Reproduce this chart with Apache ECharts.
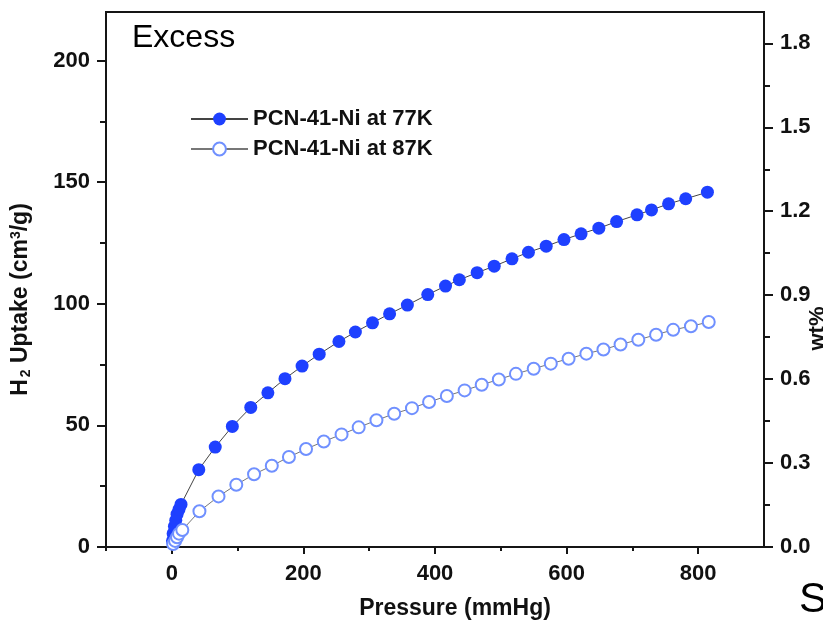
<!DOCTYPE html>
<html>
<head>
<meta charset="utf-8">
<script src="https://cdn.jsdelivr.net/npm/echarts@6/dist/echarts.min.js"></script>
<style>
html,body{margin:0;padding:0;background:#fff;}
#chart{width:823px;height:623px;}
</style>
</head>
<body>
<div id="chart"></div>
<script>
const pressure77 = [1, 2, 4, 6, 8, 11, 14, 41, 66, 92, 120, 146, 172, 198, 224, 254, 279, 305, 331, 358, 389, 416, 437, 464, 490, 517, 542, 569, 596, 622, 649, 676, 707, 729, 755, 781, 814];
const uptake77 = [2.5, 5.5, 8.5, 11, 13.5, 15.5, 17.5, 31.8, 41.1, 49.6, 57.4, 63.4, 69.2, 74.4, 79.3, 84.5, 88.4, 92.2, 95.9, 99.5, 103.8, 107.3, 109.9, 112.8, 115.5, 118.5, 121.2, 123.7, 126.4, 128.8, 131.1, 133.8, 136.6, 138.6, 141.1, 143.2, 145.9];
const pressure87 = [2, 5, 8, 11, 16, 42, 71, 98, 125, 152, 178, 204, 231, 258, 284, 311, 338, 365, 391, 418, 445, 471, 497, 523, 550, 576, 603, 630, 656, 682, 709, 736, 762, 789, 816];
const uptake87 = [1.2, 2.5, 4, 5.5, 7, 14.7, 20.8, 25.6, 29.9, 33.4, 37.0, 40.3, 43.4, 46.3, 49.2, 52.1, 54.8, 57.1, 59.6, 62.1, 64.4, 66.7, 68.9, 71.2, 73.3, 75.4, 77.4, 79.5, 81.2, 83.3, 85.2, 87.3, 89.3, 90.8, 92.5];
const xTickLabels = [0, 200, 400, 600, 800];
const xMinorTicks = [-100, 100, 300, 500, 700];
const yLeftTickLabels = [0, 50, 100, 150, 200];
const yLeftMinorTicks = [25, 75, 125, 175];
const yRightTickLabels = [0, 0.3, 0.6, 0.9, 1.2, 1.5, 1.8];
const yRightMinorTicks = [0.15, 0.45, 0.75, 1.05, 1.35, 1.65];
const seriesNames = ['PCN-41-Ni at 77K', 'PCN-41-Ni at 87K'];

const FONT = '"Liberation Sans", Arial, Helvetica, sans-serif';
const AX = '#151515';
const labelStyle = {color: '#111', fontFamily: FONT, fontWeight: 'bold', fontSize: 22};

const chart = echarts.init(document.getElementById('chart'), null, {renderer: 'canvas'});
const option = {
  animation: false,
  backgroundColor: '#fff',
  grid: {left: 106, top: 12, right: 59, bottom: 76, containLabel: false, outerBoundsMode: 'none',
         show: true, borderColor: AX, borderWidth: 2, backgroundColor: 'transparent'},
  legend: {
    orient: 'vertical', left: 190, top: 108, padding: 0, itemWidth: 57, itemHeight: 16, itemGap: 8,
    textStyle: {color: '#111', fontFamily: FONT, fontWeight: 'bold', fontSize: 22},
    data: seriesNames
  },
  graphic: [
    {type: 'text', left: 132, top: 22, style: {text: 'Excess', fontFamily: FONT, fontSize: 32, fill: '#000'}},
    {type: 'text', left: 799, top: 579, style: {text: 'S', fontFamily: FONT, fontSize: 42, fill: '#000'}}
  ],
  xAxis: [
    {
      type: 'value', min: -100, max: 900, position: 'bottom',
      name: 'Pressure (mmHg)', nameLocation: 'middle', nameGap: 50,
      nameTextStyle: {color: '#111', fontFamily: FONT, fontWeight: 'bold', fontSize: 23, padding: [0, 0, 0, 40]},
      axisLine: {show: true, onZero: false, lineStyle: {color: AX, width: 2}},
      axisTick: {show: true, inside: false, length: 7, lineStyle: {color: AX, width: 2}, customValues: xTickLabels},
      axisLabel: Object.assign({margin: 16, customValues: xTickLabels}, labelStyle),
      splitLine: {show: false}
    },
    {
      type: 'value', min: -100, max: 900, position: 'bottom', offset: 0,
      axisLine: {show: false, onZero: false},
      axisTick: {show: true, inside: false, length: 4, lineStyle: {color: AX, width: 2}, customValues: xMinorTicks},
      axisLabel: {show: false},
      splitLine: {show: false}
    }
  ],
  yAxis: [
    {
      type: 'value', min: 0, max: 220, position: 'left',
      name: '{t|H}{s|2}{t| Uptake (cm}{p|3}{t|/g)}', nameLocation: 'middle', nameGap: 73, nameRotate: 90,
      nameTextStyle: {
        color: '#111', fontFamily: FONT, fontWeight: 'bold', fontSize: 23, padding: [0, 40, 0, 0],
        rich: {
          t: {fontFamily: FONT, fontWeight: 'bold', fontSize: 23, color: '#111'},
          s: {fontFamily: FONT, fontWeight: 'bold', fontSize: 14, color: '#111', verticalAlign: 'bottom', padding: [10, 0, 0, 2]},
          p: {fontFamily: FONT, fontWeight: 'bold', fontSize: 14, color: '#111', verticalAlign: 'top', padding: [0, 0, 10, 0]}
        }
      },
      axisLine: {show: true, onZero: false, lineStyle: {color: AX, width: 2}},
      axisTick: {show: true, inside: false, length: 9, lineStyle: {color: AX, width: 2}, customValues: yLeftTickLabels},
      axisLabel: Object.assign({margin: 16, customValues: yLeftTickLabels}, labelStyle),
      splitLine: {show: false}
    },
    {
      type: 'value', min: 0, max: 1.912, position: 'right', alignTicks: false,
      name: 'wt%', nameLocation: 'middle', nameGap: 43, nameRotate: 90, nameMoveOverlap: false,
      nameTextStyle: {color: '#111', fontFamily: FONT, fontWeight: 'bold', fontSize: 22, padding: [0, 98, 0, 0]},
      axisLine: {show: true, onZero: false, lineStyle: {color: AX, width: 2}},
      axisTick: {show: true, inside: false, length: 9, lineStyle: {color: AX, width: 2}, customValues: yRightTickLabels},
      axisLabel: Object.assign({margin: 16, customValues: yRightTickLabels, formatter: v => v.toFixed(1)}, labelStyle),
      splitLine: {show: false}
    },
    {
      type: 'value', min: 0, max: 220, position: 'left', offset: 0,
      axisLine: {show: false, onZero: false},
      axisTick: {show: true, inside: false, length: 6, lineStyle: {color: AX, width: 2}, customValues: yLeftMinorTicks},
      axisLabel: {show: false}, splitLine: {show: false}
    },
    {
      type: 'value', min: 0, max: 1.912, position: 'right', offset: 0,
      axisLine: {show: false, onZero: false},
      axisTick: {show: true, inside: false, length: 6, lineStyle: {color: AX, width: 2}, customValues: yRightMinorTicks},
      axisLabel: {show: false}, splitLine: {show: false}
    }
  ],
  series: [
    {
      name: seriesNames[0], type: 'line', xAxisIndex: 0, yAxisIndex: 0,
      data: pressure77.map((p, i) => [p, uptake77[i]]),
      symbol: 'circle', symbolSize: 13,
      itemStyle: {color: '#1e40ff'},
      lineStyle: {color: '#444', width: 1}
    },
    {
      name: seriesNames[1], type: 'line', xAxisIndex: 0, yAxisIndex: 0,
      data: pressure87.map((p, i) => [p, uptake87[i]]),
      symbol: 'emptyCircle', symbolSize: 12,
      itemStyle: {color: '#7090ff', borderWidth: 1.5},
      lineStyle: {color: '#777', width: 1}
    }
  ]
};
chart.setOption(option);
</script>
</body>
</html>
